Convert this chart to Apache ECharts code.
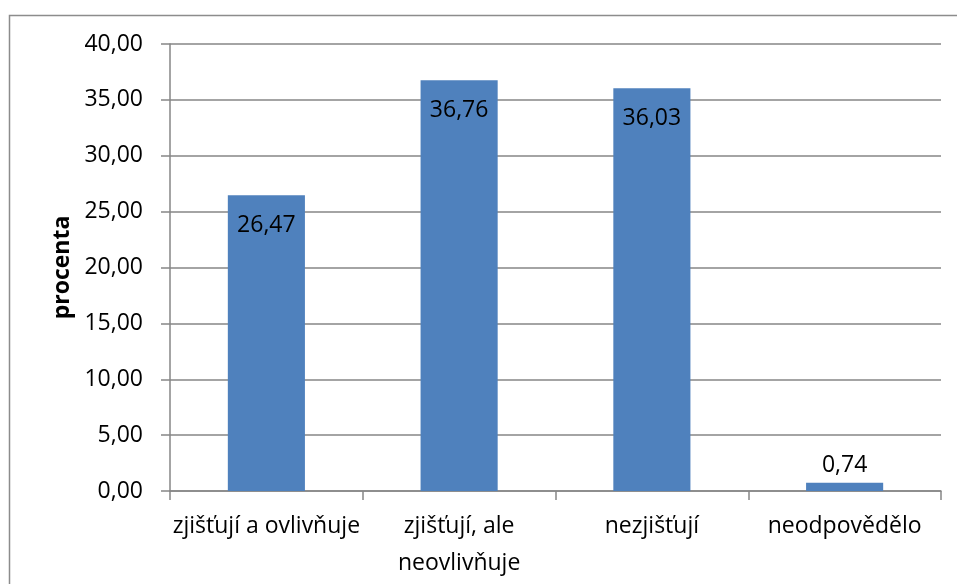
<!DOCTYPE html>
<html>
<head>
<meta charset="utf-8">
<script src="https://cdn.jsdelivr.net/npm/echarts@6/dist/echarts.min.js"></script>
<style>
html,body{margin:0;padding:0;background:#fff;}
#c{width:957px;height:584px;}
</style>
</head>
<body>
<div id="c"></div>
<script>
const categories = ['zjišťují a ovlivňuje', 'zjišťují, ale neovlivňuje', 'nezjišťují', 'neodpovědělo'];
const values = [26.47, 36.76, 36.03, 0.74];
const yAxisName = 'procenta';
const yMin = 0, yMax = 40, yStep = 5;

const FONT = 'Open Sans';
const fmt = v => v.toFixed(2).replace('.', ',');

const chart = echarts.init(document.getElementById('c'), null, {renderer: 'canvas'});
chart.setOption({
  animation: false,
  backgroundColor: '#fff',
  textStyle: {fontFamily: FONT},
  graphic: [{
    type: 'rect',
    shape: {x: 9.5, y: 15.5, width: 1000, height: 1000},
    style: {fill: 'none', stroke: '#8c8c8c', lineWidth: 1.5},
    silent: true, z: -1
  }],
  grid: {left: 170, right: 16, top: 44, bottom: 93, containLabel: false},
  xAxis: {
    type: 'category',
    data: categories,
    axisLine: {lineStyle: {color: '#868686', width: 1.5}},
    axisTick: {show: true, interval: 0, length: 9, lineStyle: {color: '#868686', width: 1.5}},
    axisLabel: {
      interval: 0,
      color: '#000', fontFamily: FONT, fontSize: 23, lineHeight: 37, margin: 17,
      formatter: s => s.includes(',') ? s.replace(/ (\S+)$/, '\n$1') : s
    }
  },
  yAxis: {
    type: 'value',
    min: yMin, max: yMax, interval: yStep,
    name: yAxisName,
    nameLocation: 'middle',
    nameGap: 94,
    nameTextStyle: {color: '#000', fontFamily: FONT, fontSize: 23, fontWeight: 'bold'},
    axisLine: {show: true, lineStyle: {color: '#868686', width: 1.5}},
    axisTick: {show: true, length: 9, inside: false, lineStyle: {color: '#868686', width: 1.5}},
    splitLine: {lineStyle: {color: '#868686', width: 1.5}},
    axisLabel: {color: '#000', fontFamily: FONT, fontSize: 23, margin: 27, formatter: fmt}
  },
  series: [{
    type: 'bar',
    barWidth: '40%',
    itemStyle: {color: '#4F81BD'},
    data: values.map(v => ({
      value: v,
      label: v > 5
        ? {position: 'insideTop', distance: 19}
        : {position: 'top', distance: 6}
    })),
    label: {
      show: true, color: '#000', fontFamily: FONT, fontSize: 23,
      formatter: p => fmt(p.value)
    }
  }]
});
</script>
</body>
</html>
